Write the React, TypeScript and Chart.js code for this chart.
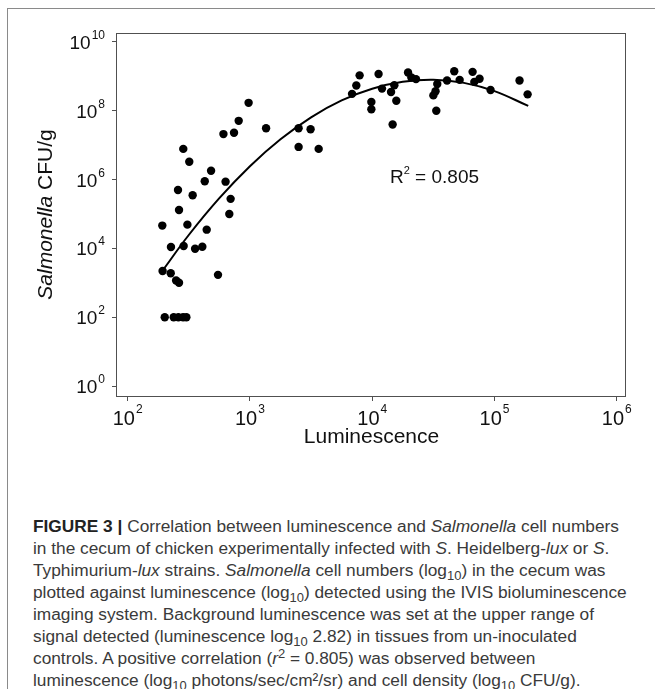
import React, { useEffect, useRef } from "react";
import { Chart, registerables } from "chart.js";

Chart.register(...registerables);

// Luminescence (x) and Salmonella CFU/g (y) for each sample
const lumX = [
  975, 809, 607, 741, 1355, 285, 319, 481, 427, 632, 258, 340, 695, 263, 678,
  2500, 3133, 2500, 3648, 192, 308, 443, 226, 287, 356, 408, 193, 225, 548, 249,
  263, 201, 238, 260, 284, 302, 6839, 7413, 7889, 11272, 12023, 9840, 9840,
  14256, 15171, 15740, 14690, 19634, 20893, 22803, 31623, 32961, 34041, 33420,
  40926, 46881, 51880, 66222, 68391, 75509, 92897, 160300, 186600,
];
const cfuY = [
  1.7e8, 5.1e7, 2.1e7, 2.3e7, 3.1e7, 7.8e6, 3.3e6, 1.8e6, 8.9e5, 8.7e5, 5.0e5,
  3.5e5, 2.75e5, 1.3e5, 1.0e5, 3.1e7, 2.9e7, 8.9e6, 7.8e6, 4.6e4, 4.9e4, 3.5e4,
  1.1e4, 1.17e4, 9.8e3, 1.12e4, 2.2e3, 1.9e3, 1.7e3, 1.17e3, 1.0e3, 100, 100,
  100, 100, 100, 3.1e8, 5.4e8, 1.07e9, 1.17e9, 4.4e8, 1.8e8, 1.1e8, 3.5e8,
  5.5e8, 1.95e8, 4.0e7, 1.29e9, 9.3e8, 8.3e8, 2.8e8, 3.7e8, 6.0e8, 1.0e8, 7.6e8,
  1.41e9, 7.9e8, 1.35e9, 6.9e8, 8.5e8, 4.0e8, 7.6e8, 3.0e8,
];

// Fitted trend line
const fitX = [197, 316, 562, 1000, 1778, 3162, 5623, 10000, 17783, 31623, 56234, 100000, 188800];
const fitY = [2.5e3, 2.45e4, 2.88e5, 2.45e6, 1.48e7, 6.46e7, 2.0e8, 4.37e8, 6.92e8, 7.94e8, 6.46e8, 3.72e8, 1.38e8];

const xTicks = [1e2, 1e3, 1e4, 1e5, 1e6];
const yTicks = [1e0, 1e2, 1e4, 1e6, 1e8, 1e10];
const xRange = [81.8, 1.19e6];
const yRange = [0.513, 1.82e10];

const xTitle = "Luminescence";
const yTitleItalic = "Salmonella";
const yTitleRest = " CFU/g";
const r2Value = "0.805";

const FONT = '"Liberation Sans", Arial, sans-serif';

const drawPlugin = {
  id: "customDraw",
  afterDraw(chart: any) {
    const ctx = chart.ctx as CanvasRenderingContext2D;
    const { left, top, right, bottom } = chart.chartArea;
    const xs = chart.scales.x;
    const ys = chart.scales.y;
    ctx.save();
    // box
    ctx.strokeStyle = "#505050";
    ctx.lineWidth = 1;
    ctx.strokeRect(Math.round(left) - 0.5, Math.round(top) + 0.5, Math.round(right - left), Math.round(bottom - top));
    ctx.fillStyle = "#111";
    ctx.textBaseline = "alphabetic";
    ctx.textAlign = "left";
    // y tick labels
    yTicks.forEach((v) => {
      const py = ys.getPixelForValue(v);
      const e = String(Math.round(Math.log10(v)));
      ctx.font = `12px ${FONT}`;
      const ew = ctx.measureText(e).width;
      ctx.font = `19px ${FONT}`;
      const bw = ctx.measureText("10").width;
      const re = 105;
      ctx.fillText("10", re - ew - bw - 1, py + 7);
      ctx.font = `12px ${FONT}`;
      ctx.fillText(e, re - ew, py - 3);
    });
    // x tick labels
    xTicks.forEach((v) => {
      const px = xs.getPixelForValue(v);
      const e = String(Math.round(Math.log10(v)));
      ctx.font = `12px ${FONT}`;
      const ew = ctx.measureText(e).width;
      ctx.font = `20px ${FONT}`;
      const bw = ctx.measureText("10").width;
      const start = px - (bw + 1 + ew) / 2;
      ctx.fillText("10", start, 425);
      ctx.font = `12px ${FONT}`;
      ctx.fillText(e, start + bw + 1, 413);
    });
    // x title
    ctx.font = `21px ${FONT}`;
    ctx.textAlign = "center";
    ctx.textBaseline = "middle";
    ctx.fillText(xTitle, (left + right) / 2, 437);
    // y title
    ctx.save();
    ctx.translate(46, (top + bottom) / 2);
    ctx.rotate(-Math.PI / 2);
    ctx.textAlign = "left";
    ctx.font = `italic 21px ${FONT}`;
    const w1 = ctx.measureText(yTitleItalic).width;
    ctx.font = `21px ${FONT}`;
    const w2 = ctx.measureText(yTitleRest).width;
    const s = -(w1 + w2) / 2;
    ctx.font = `italic 21px ${FONT}`;
    ctx.fillText(yTitleItalic, s, 0);
    ctx.font = `21px ${FONT}`;
    ctx.fillText(yTitleRest, s + w1, 0);
    ctx.restore();
    // R^2 annotation
    ctx.textAlign = "left";
    ctx.textBaseline = "alphabetic";
    ctx.font = `19px ${FONT}`;
    const rx = 390;
    const ry = 183;
    ctx.fillText("R", rx, ry);
    const rw = ctx.measureText("R").width;
    ctx.font = `11px ${FONT}`;
    ctx.fillText("2", rx + rw, ry - 9);
    const sw = ctx.measureText("2").width;
    ctx.font = `19px ${FONT}`;
    ctx.fillText(" = " + r2Value, rx + rw + sw, ry);
    ctx.restore();
  },
};

export default function App() {
  const ref = useRef<HTMLCanvasElement | null>(null);
  useEffect(() => {
    if (!ref.current) return;
    const chart = new Chart(ref.current, {
      type: "scatter",
      data: {
        datasets: [
          {
            type: "line",
            data: fitX.map((x, i) => ({ x, y: fitY[i] })),
            borderColor: "#000",
            borderWidth: 2,
            pointRadius: 0,
            tension: 0.4,
            fill: false,
          } as any,
          {
            type: "scatter",
            data: lumX.map((x, i) => ({ x, y: cfuY[i] })),
            backgroundColor: "#000",
            borderColor: "#000",
            borderWidth: 0,
            pointRadius: 4.2,
          },
        ],
      },
      options: {
        responsive: false,
        animation: false,
        layout: { padding: { left: 0, top: 33, right: 29, bottom: 0 } },
        plugins: { legend: { display: false }, tooltip: { enabled: false } },
        scales: {
          x: {
            type: "logarithmic",
            min: xRange[0],
            max: xRange[1],
            afterBuildTicks: (sc: any) => {
              sc.ticks = xTicks.map((v) => ({ value: v }));
            },
            afterFit: (sc: any) => {
              sc.height = 64;
            },
            ticks: { display: false },
            grid: { drawOnChartArea: false, drawTicks: true, tickLength: 5, color: "#505050" },
            border: { display: false },
          },
          y: {
            type: "logarithmic",
            min: yRange[0],
            max: yRange[1],
            afterBuildTicks: (sc: any) => {
              sc.ticks = yTicks.map((v) => ({ value: v }));
            },
            afterFit: (sc: any) => {
              sc.width = 117;
            },
            ticks: { display: false },
            grid: { drawOnChartArea: false, drawTicks: true, tickLength: 5, color: "#505050" },
            border: { display: false },
          },
        },
      },
      plugins: [drawPlugin],
    });
    return () => chart.destroy();
  }, []);

  const sub = (t: string) => (
    <span style={{ fontSize: "0.75em", verticalAlign: "-0.3em", lineHeight: 0 }}>{t}</span>
  );

  return (
    <div style={{ position: "fixed", left: 0, top: 0, width: 655, height: 689, overflow: "hidden", background: "#fff" }}>
      <div style={{ position: "absolute", left: 7, top: 8, width: 900, height: 900, border: "1px solid #8a8a8a" }} />
      <canvas ref={ref} width={655} height={460} style={{ position: "absolute", left: 0, top: 0, width: 655, height: 460 }} />
      <div
        style={{
          position: "absolute",
          left: 33,
          top: 515,
          whiteSpace: "nowrap",
          fontFamily: FONT,
          fontSize: 17.3,
          lineHeight: "22px",
          color: "#3a3a3a",
        }}
      >
        <b style={{ color: "#222" }}>FIGURE 3 |</b> Correlation between luminescence and <i>Salmonella</i> cell numbers
        <br />
        in the cecum of chicken experimentally infected with <i>S</i>. Heidelberg-<i>lux</i> or <i>S</i>.
        <br />
        Typhimurium-<i>lux</i> strains. <i>Salmonella</i> cell numbers (log{sub("10")}) in the cecum was
        <br />
        plotted against luminescence (log{sub("10")}) detected using the IVIS bioluminescence
        <br />
        imaging system. Background luminescence was set at the upper range of
        <br />
        signal detected (luminescence log{sub("10")} 2.82) in tissues from un-inoculated
        <br />
        controls. A positive correlation (<i>r</i>
        <span style={{ fontSize: "0.75em", verticalAlign: "0.5em", lineHeight: 0 }}>2</span> = 0.805) was observed between
        <br />
        luminescence (log{sub("10")} photons/sec/cm²/sr) and cell density (log{sub("10")} CFU/g).
      </div>
    </div>
  );
}
